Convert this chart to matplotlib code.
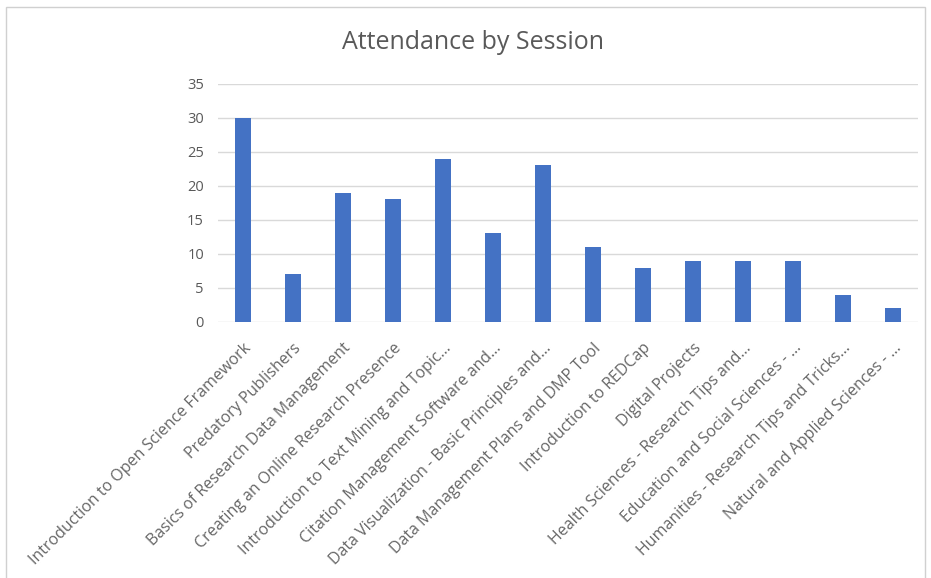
import matplotlib.pyplot as plt
from matplotlib.patches import Rectangle

sessions = [
    "Introduction to Open Science Framework",
    "Predatory Publishers",
    "Basics of Research Data Management",
    "Creating an Online Research Presence",
    "Introduction to Text Mining and Topic...",
    "Citation Management Software and...",
    "Data Visualization - Basic Principles and...",
    "Data Management Plans and DMP Tool",
    "Introduction to REDCap",
    "Digital Projects",
    "Health Sciences - Research Tips and...",
    "Education and Social Sciences - ...",
    "Humanities - Research Tips and Tricks...",
    "Natural and Applied Sciences - ...",
]
attendance = [30, 7, 19, 18, 24, 13, 23, 11, 8, 9, 9, 9, 4, 2]
y_ticks = [0, 5, 10, 15, 20, 25, 30, 35]

plt.rcParams['font.family'] = ['Open Sans', 'DejaVu Sans']

fig = plt.figure(figsize=(9.31, 5.78), dpi=100)
ax = fig.add_axes([0.234, 0.443, 0.752, 0.412])

x = range(len(sessions))
ax.bar(x, attendance, width=0.32, color='#4472C4', zorder=3)

ax.set_xlim(-0.5, len(sessions) - 0.5)
ax.set_ylim(0, 35)
ax.set_yticks(y_ticks)
ax.set_yticklabels([str(v) for v in y_ticks], fontsize=10.5, color='#595959')
ax.set_xticks(list(x))
ax.set_xticklabels(sessions, rotation=45, ha='right', rotation_mode='anchor',
                   fontsize=11.5, color='#666666')
ax.tick_params(axis='y', length=0, pad=10)
ax.tick_params(axis='x', length=0, pad=13)
ax.grid(axis='y', color='#d9d9d9', linewidth=1, zorder=0)
for s in ax.spines.values():
    s.set_visible(False)

fig.text(0.508, 0.927, "Attendance by Session", ha='center', va='center',
         fontsize=18, color='#595959')

fig.patches.append(Rectangle((0.006, -0.01), 0.988, 0.998, transform=fig.transFigure,
                             fill=False, edgecolor='#d0d0d0', linewidth=1))

fig.savefig('out.png', dpi=100)
